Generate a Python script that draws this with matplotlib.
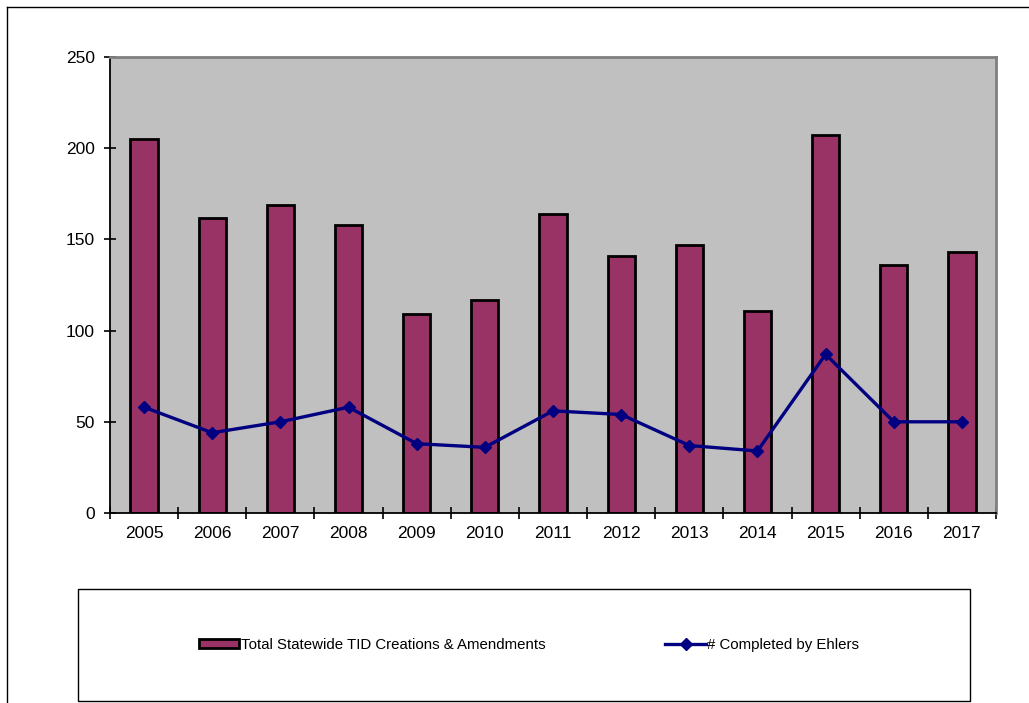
import matplotlib
matplotlib.use("Agg")
from matplotlib import pyplot as plt
from matplotlib.lines import Line2D
from matplotlib.patches import Rectangle

plt.rcParams['font.family'] = ['Liberation Sans', 'DejaVu Sans']

years = ['2005', '2006', '2007', '2008', '2009', '2010', '2011',
         '2012', '2013', '2014', '2015', '2016', '2017']
total_tid = [205, 162, 169, 158, 109, 117, 164, 141, 147, 111, 207, 136, 143]
ehlers = [58, 44, 50, 58, 38, 36, 56, 54, 37, 34, 87, 50, 50]

W, H = 1029, 703
fig = plt.figure(figsize=(W / 100, H / 100), dpi=100)
fig.patch.set_facecolor('white')

# plot area in pixel coords -> figure fractions
x0, x1, y0, y1 = 110, 996, 57, 513
ax = fig.add_axes([x0 / W, 1 - y1 / H, (x1 - x0) / W, (y1 - y0) / H])
ax.set_facecolor('#c0c0c0')

pos = list(range(len(years)))
bars = ax.bar(pos, total_tid, width=0.4, color='#993366', edgecolor='black',
              linewidth=2.0, zorder=2)
line, = ax.plot(pos, ehlers, color='#000080', linewidth=2.4, marker='D',
                markersize=6, zorder=3)

ax.set_xlim(-0.5, len(years) - 0.5)
ax.set_ylim(0, 250)
ax.set_yticks([0, 50, 100, 150, 200, 250])
ax.set_xticks([p - 0.5 for p in pos] + [len(years) - 0.5])
ax.set_xticklabels([])
ax.set_xticks(pos, minor=True)
ax.set_xticklabels(years, minor=True)
ax.tick_params(axis='x', which='minor', length=0, pad=9, labelsize=12.5)
ax.tick_params(axis='x', which='major', direction='inout', length=8, width=1.2)
ax.tick_params(axis='y', direction='inout', length=8, width=1.2, pad=7, labelsize=12.5)

for side in ['left', 'bottom']:
    ax.spines[side].set_color('black')
    ax.spines[side].set_linewidth(1.3)
for side in ['top', 'right']:
    ax.spines[side].set_color('#808080')
    ax.spines[side].set_linewidth(2)

# outer chart border (top and left only visible)
fig.add_artist(Line2D([7 / W, 1], [1 - 7 / H, 1 - 7 / H], color='black', linewidth=1))
fig.add_artist(Line2D([7 / W, 7 / W], [0, 1 - 7 / H], color='black', linewidth=1))

# legend box
lx0, lx1, ly0, ly1 = 78, 970, 589, 701
fig.add_artist(Rectangle((lx0 / W, 1 - ly1 / H), (lx1 - lx0) / W, (ly1 - ly0) / H,
                         transform=fig.transFigure, facecolor='white',
                         edgecolor='black', linewidth=1))
fig.legend([bars, line],
           ['Total Statewide TID Creations & Amendments', '# Completed by Ehlers'],
           loc='center', ncol=2,
           bbox_to_anchor=((lx0 + lx1) / 2 / W + 0.005, 1 - (ly0 + ly1) / 2 / H),
           frameon=False, fontsize=10.8, columnspacing=8.0, handlelength=2.7,
           handleheight=0.5, handletextpad=0.1)

fig.savefig('out.png', dpi=100)
plt.close(fig)
